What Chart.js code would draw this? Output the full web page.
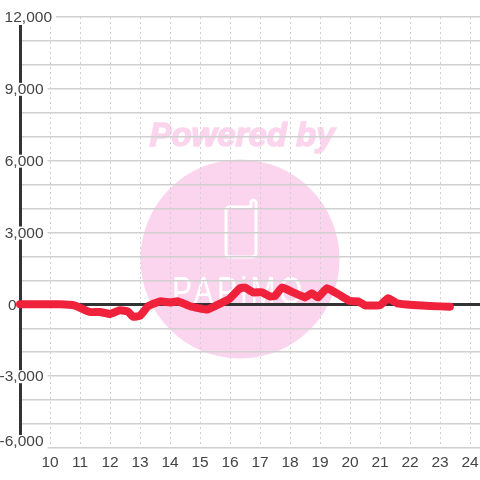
<!DOCTYPE html>
<html>
<head>
<meta charset="utf-8">
<script src="https://cdn.jsdelivr.net/npm/chart.js@4/dist/chart.umd.min.js"></script>
<style>
    html, body { margin: 0; padding: 0; background: #fff; }
    canvas { display: block; }
</style>
</head>
<body>
<canvas id="chart" width="480" height="480"></canvas>
<script>
// ===== DATA =====
const hours = [9, 10.33, 10.83, 11.33, 11.67, 12, 12.33, 12.6, 12.77, 13, 13.27, 13.67, 14, 14.27, 14.67,
    15.23, 15.67, 16, 16.33, 16.5, 16.77, 17.07, 17.33, 17.5, 17.73, 18.1, 18.5, 18.73, 18.93, 19.23,
    19.67, 20, 20.27, 20.5, 21, 21.27, 21.57, 22.1, 22.67, 23.33];
const values = [0, 0, -50, -320, -320, -400, -250, -300, -520, -480, -80, 125, 80, 125, -80,
    -220, 30, 250, 670, 700, 500, 500, 330, 350, 700, 500, 290, 460, 290, 670,
    375, 140, 125, -40, -40, 250, 40, -30, -70, -100];
const xTicks = [10, 11, 12, 13, 14, 15, 16, 17, 18, 19, 20, 21, 22, 23, 24];
const yLabelled = [12000, 9000, 6000, 3000, 0, -3000, -6000];

const FONT = '15.5px "Liberation Sans"';
const TEXT_COLOR = '#444';
const PINK = '#fbd5ed';

// ===== WATERMARK (sits under the grid) =====
const watermark = {
    id: 'watermark',
    beforeDraw(chart) {
        const ctx = chart.ctx;
        ctx.save();
        ctx.fillStyle = PINK;
        ctx.strokeStyle = PINK;
        ctx.beginPath();
        ctx.arc(240, 259, 99.5, 0, Math.PI * 2);
        ctx.fill();

        ctx.font = 'italic bold 33px "Liberation Sans"';
        ctx.textAlign = 'center';
        ctx.textBaseline = 'alphabetic';
        ctx.lineWidth = 1.5;
        ctx.fillText('Powered by', 242, 146);
        ctx.strokeText('Powered by', 242, 146);

        // phone icon
        ctx.strokeStyle = '#fff';
        ctx.lineWidth = 3;
        ctx.lineJoin = 'round';
        ctx.beginPath();
        ctx.moveTo(251, 207);
        ctx.lineTo(230, 207);
        ctx.quadraticCurveTo(226, 207, 226, 211);
        ctx.lineTo(226, 253);
        ctx.quadraticCurveTo(226, 257, 230, 257);
        ctx.lineTo(252, 257);
        ctx.quadraticCurveTo(256, 257, 256, 253);
        ctx.lineTo(256, 202);
        ctx.quadraticCurveTo(253, 198, 251, 202);
        ctx.closePath();
        ctx.stroke();

        // logo word, tall and thin
        ctx.fillStyle = '#fff';
        ctx.font = '30px "Liberation Sans"';
        ctx.letterSpacing = '3.5px';
        ctx.translate(239, 304);
        ctx.scale(1, 1.3);
        ctx.fillText('PAPiMO', 0, 0);
        ctx.restore();
    }
};

// ===== Y LABELS (white box behind each, a few sit off the usual column) =====
const yLabels = {
    id: 'yLabels',
    afterDatasetsDraw(chart) {
        const ctx = chart.ctx;
        const scale = chart.scales.y;
        ctx.save();
        ctx.font = FONT;
        ctx.textBaseline = 'middle';
        ctx.textAlign = 'right';
        scale.ticks.forEach(tick => {
            if (!tick.label) return;
            const y = scale.getPixelForValue(tick.value);
            let right = 43.5;
            let cy = y + 1;
            let boxBottom = y + 7;
            let boxTop = y - 6;
            if (tick.value === 12000) { right = 52; cy = y + 1; boxBottom = y + 8; }
            if (tick.value === 0) { right = 16.5; }
            if (tick.value === -6000) { cy = y - 6; boxTop = y - 13; boxBottom = y + 1; }
            if (tick.value !== 0) {
                const w = ctx.measureText(tick.label).width;
                ctx.fillStyle = '#fff';
                ctx.fillRect(right - w - 1, boxTop, w + 5, boxBottom - boxTop);
            }
            ctx.fillStyle = TEXT_COLOR;
            ctx.fillText(tick.label, right, cy);
        });
        ctx.restore();
    }
};

// ===== CHART =====
new Chart(document.getElementById('chart'), {
    type: 'line',
    data: {
        datasets: [{
            data: hours.map((h, i) => ({ x: h, y: values[i] })),
            borderColor: '#f0213b',
            borderWidth: 8,
            borderCapStyle: 'round',
            borderJoinStyle: 'round',
            tension: 0.12,
            pointRadius: 0,
            clip: false
        }]
    },
    options: {
        responsive: false,
        animation: false,
        layout: { padding: { left: 20, top: 17, right: 0, bottom: 0 } },
        plugins: { legend: { display: false }, tooltip: { enabled: false } },
        scales: {
            x: {
                type: 'linear',
                min: 9,
                max: 24.333,
                afterBuildTicks: scale => { scale.ticks = xTicks.map(v => ({ value: v })); },
                afterFit: scale => {
                    scale.height = 32;
                    scale.paddingLeft = 0;
                    scale.paddingRight = 0;
                },
                grid: { color: '#d0d0d0', lineWidth: 1, drawTicks: false },
                border: { display: false, dash: [2, 3] },
                ticks: {
                    autoSkip: false,
                    maxRotation: 0,
                    padding: 5,
                    color: TEXT_COLOR,
                    font: { family: '"Liberation Sans"', size: 15.5 },
                    callback: v => String(v)
                }
            },
            y: {
                min: -6000,
                max: 12000,
                afterFit: scale => { scale.width = 0; },
                grid: {
                    drawTicks: false,
                    color: ctx => (ctx.tick.value === 0 ? '#333' : '#d0d0d0'),
                    lineWidth: ctx => (ctx.tick.value === 0 ? 3 : 1.5)
                },
                border: { display: true, color: '#333', width: 3 },
                ticks: {
                    display: false,
                    stepSize: 1000,
                    autoSkip: false,
                    callback: v => (yLabelled.includes(v) ? v.toLocaleString('en-US') : '')
                }
            }
        }
    },
    plugins: [watermark, yLabels]
});
</script>
</body>
</html>
